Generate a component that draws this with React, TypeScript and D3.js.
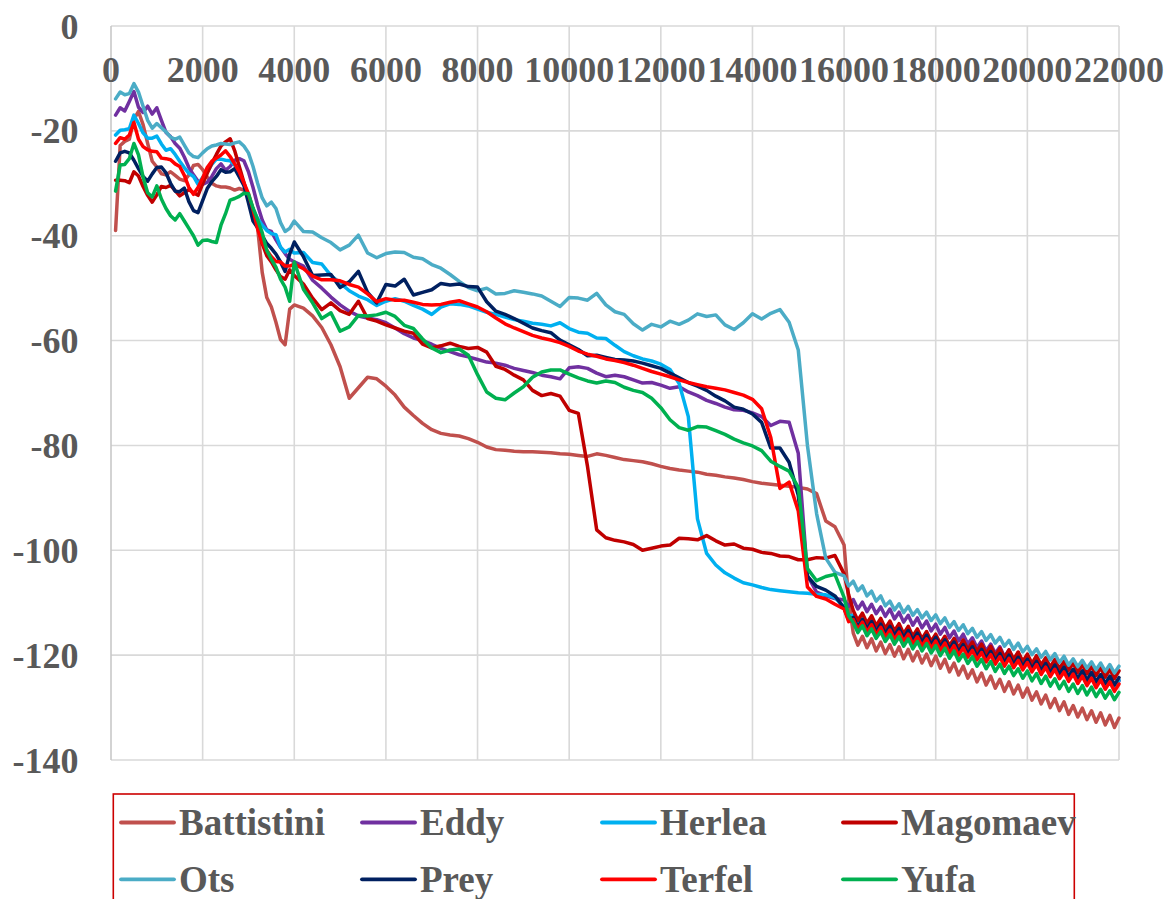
import React from "react";
import * as d3 from "d3";

// Frequency grid (Hz): fine below 4 kHz, coarser in the middle, fine again in the rippled top band
const lowFreqs: number[] = d3.range(100, 4000, 100);
const midFreqs: number[] = d3.range(4000, 16000, 200);
const highFreqs: number[] = d3.range(16000, 22001, 100);
const freqs: number[] = [...lowFreqs, ...midFreqs, ...highFreqs];

const xTicks = [0, 2000, 4000, 6000, 8000, 10000, 12000, 14000, 16000, 18000, 20000, 22000];
const yTicks = [0, -20, -40, -60, -80, -100, -120, -140];

const seriesNames = ["Battistini", "Eddy", "Herlea", "Magomaev", "Ots", "Prey", "Terfel", "Yufa"];
const seriesColors = ["#c0504d", "#7030a0", "#00b0f0", "#c00000", "#4bacc6", "#002060", "#ff0000", "#00b050"];

const battistini = [
  -39.0, -22.8, -22.0, -21.6, -17.8, -16.3, -18.8, -22.4, -25.8, -26.9,
  -28.2, -28.4, -27.8, -28.5, -29.2, -29.5, -28.4, -26.6, -26.4, -27.4,
  -28.8, -30.0, -30.5, -30.7, -30.7, -30.9, -31.3, -31.0, -31.3, -32.6,
  -35.3, -38.5, -47.0, -51.8, -53.6, -56.5, -59.8, -60.8, -54.0,
  -53.2, -53.8, -55.3, -57.5, -60.8, -65.0, -71.0, -69.0, -67.0, -67.3,
  -68.7, -70.4, -72.7, -74.3, -75.8, -77.0, -77.7, -78.0, -78.2, -78.7,
  -79.4, -80.3, -80.8, -80.9, -81.1, -81.2, -81.2, -81.3, -81.4, -81.6,
  -81.7, -81.9, -82.1, -81.6, -81.9, -82.3, -82.7, -82.9, -83.1, -83.5,
  -84.0, -84.4, -84.7, -84.9, -85.1, -85.5, -85.7, -86.0, -86.2, -86.5,
  -86.9, -87.2, -87.4, -87.6, -87.8, -88.0, -88.3, -89.2, -94.4, -95.5,
  -99.0, -109.5, -115.8, -118.1, -116.4, -118.6, -116.9, -119.2, -117.5, -119.7, -118.0,
  -120.2, -118.4, -120.7, -118.9, -121.1, -119.3, -121.5, -119.8, -122.0, -120.2,
  -122.5, -120.8, -123.2, -121.5, -123.8, -122.1, -124.4, -122.8, -125.1, -123.4,
  -125.7, -124.0, -126.3, -124.6, -126.9, -125.1, -127.4, -125.7, -128.0, -126.3,
  -128.6, -127.0, -129.3, -127.6, -130.0, -128.3, -130.6, -128.9, -131.3, -129.6,
  -131.8, -130.1, -132.3, -130.6, -132.8, -131.0, -133.3, -131.5, -133.8, -132.0,
];

const eddy = [
  -17.0, -15.6, -16.2, -14.4, -12.5, -15.5, -16.5, -15.3, -16.8, -15.6,
  -18.0, -20.3, -21.1, -22.4, -23.3, -25.0, -27.0, -28.4, -29.6, -30.2,
  -29.8, -28.7, -27.2, -26.3, -27.5, -26.8, -25.6, -25.3, -25.7, -27.8,
  -30.8, -34.2, -37.0, -38.9, -39.2, -40.8, -42.2, -43.4, -44.5,
  -45.0, -45.8, -48.5, -50.0, -51.7, -53.2, -54.4, -55.3, -55.7, -56.0,
  -56.6, -57.6, -58.7, -59.5, -60.0, -60.7, -61.5, -62.1, -62.7, -63.1,
  -63.6, -64.1, -64.3, -64.7, -65.3, -65.7, -66.1, -66.6, -66.9, -67.3,
  -65.2, -65.0, -65.3, -66.2, -66.9, -66.6, -66.9, -67.5, -68.1, -68.0,
  -68.5, -69.1, -68.8, -69.8, -70.5, -71.4, -72.0, -72.7, -73.2, -73.3,
  -73.8, -74.5, -76.2, -75.4, -75.6, -81.5, -104.8, -108.0, -108.7, -109.2,
  -109.5, -110.7, -109.4, -111.2, -109.9, -111.7, -110.3, -112.1, -110.8, -112.6, -111.2,
  -113.1, -111.8, -113.7, -112.4, -114.3, -112.9, -114.8, -113.5, -115.4, -114.1,
  -116.0, -114.7, -116.7, -115.4, -117.3, -116.0, -117.9, -116.7, -118.6, -117.3,
  -119.2, -117.9, -119.7, -118.4, -120.3, -119.0, -120.9, -119.5, -121.4, -120.1,
  -122.0, -120.6, -122.5, -121.2, -123.1, -121.7, -123.6, -122.3, -124.1, -122.8,
  -124.6, -123.2, -125.0, -123.6, -125.5, -124.1, -125.9, -124.5, -126.3, -124.9,
];

const herlea = [
  -20.8, -19.9, -19.8, -19.6, -17.0, -18.6, -20.4, -21.4, -21.4, -21.0,
  -22.5, -23.7, -23.4, -24.5, -25.8, -27.0, -28.1, -28.7, -30.2, -28.9,
  -27.8, -26.4, -25.4, -25.4, -25.6, -25.7, -26.5, -28.4, -30.2, -32.6,
  -34.9, -36.7, -38.0, -39.0, -39.6, -39.8, -42.2, -43.1, -42.6,
  -43.3, -43.2, -45.1, -45.4, -47.6, -49.0, -50.5, -51.5, -52.2, -53.3,
  -52.5, -52.0, -52.5, -53.3, -54.0, -55.0, -53.6, -53.0, -53.1, -53.4,
  -54.0, -54.6, -55.0, -55.5, -56.0, -56.3, -56.7, -56.9, -57.2, -56.6,
  -57.7, -58.4, -58.6, -59.5, -59.6, -60.9, -62.1, -62.9, -63.5, -63.9,
  -64.5, -65.5, -68.2, -74.5, -94.0, -100.6, -102.8, -104.3, -105.3, -106.2,
  -106.6, -107.1, -107.5, -107.7, -107.9, -108.1, -108.2, -108.4, -108.5, -109.0,
  -110.8, -112.5, -112.4, -114.2, -112.9, -114.7, -113.4, -115.2, -113.8, -115.7, -114.3,
  -116.2, -114.8, -116.7, -115.3, -117.2, -115.8, -117.7, -116.3, -118.2, -116.8,
  -118.6, -117.3, -119.1, -117.8, -119.6, -118.2, -120.1, -118.7, -120.6, -119.2,
  -121.0, -119.6, -121.4, -120.0, -121.8, -120.3, -122.1, -120.7, -122.5, -121.1,
  -122.9, -121.5, -123.3, -121.9, -123.7, -122.2, -124.0, -122.6, -124.4, -123.0,
  -124.8, -123.4, -125.1, -123.7, -125.5, -124.1, -125.9, -124.5, -126.2, -124.8,
];

const magomaev = [
  -29.4, -29.4, -29.5, -29.9, -27.8, -28.6, -30.6, -32.3, -33.6, -32.2,
  -30.6, -30.8, -30.4, -31.4, -32.4, -31.8, -31.2, -31.8, -32.3, -30.1,
  -28.1, -26.2, -24.5, -22.9, -22.1, -21.5, -23.8, -26.8, -29.8, -32.8,
  -35.0, -37.8, -41.5, -43.8, -45.0, -46.5, -47.8, -48.3, -46.5,
  -47.6, -49.2, -51.9, -54.1, -52.8, -54.3, -55.0, -52.5, -55.8, -56.3,
  -57.0, -57.6, -58.2, -58.6, -60.7, -61.4, -61.0, -60.5, -61.1, -61.5,
  -61.3, -62.2, -64.9, -65.5, -66.6, -67.5, -69.5, -70.5, -70.1, -70.6,
  -73.3, -73.9, -84.0, -96.1, -97.6, -98.1, -98.4, -98.9, -100.0, -99.6,
  -99.2, -99.0, -97.7, -97.8, -98.0, -97.2, -98.2, -99.0, -98.8, -99.6,
  -99.8, -100.4, -100.6, -101.1, -101.2, -101.8, -101.8, -101.4, -101.5, -101.0,
  -104.5, -108.5, -111.5, -113.4, -112.0, -113.9, -112.5, -114.4, -113.0, -114.9, -113.5,
  -115.4, -114.0, -115.9, -114.5, -116.4, -115.0, -116.9, -115.5, -117.4, -116.0,
  -117.8, -116.4, -118.2, -116.8, -118.6, -117.1, -118.9, -117.5, -119.3, -117.9,
  -119.7, -118.3, -120.1, -118.7, -120.5, -119.0, -120.8, -119.4, -121.2, -119.8,
  -121.6, -120.1, -121.9, -120.5, -122.3, -120.8, -122.6, -121.2, -122.9, -121.5,
  -123.3, -121.8, -123.6, -122.1, -123.9, -122.4, -124.2, -122.7, -124.5, -123.0,
];

const ots = [
  -13.9, -12.6, -13.1, -12.9, -11.0, -12.6, -15.3, -18.0, -19.5, -18.6,
  -19.4, -20.2, -21.2, -21.6, -21.2, -22.7, -24.2, -24.9, -25.1, -24.2,
  -23.4, -22.9, -22.7, -22.4, -22.5, -22.6, -22.3, -22.1, -22.9, -24.2,
  -26.8, -30.0, -32.8, -34.3, -33.6, -34.8, -37.5, -39.2, -38.6,
  -37.2, -39.2, -39.3, -40.4, -41.3, -42.7, -41.8, -39.9, -43.3, -44.2,
  -43.4, -43.1, -43.2, -44.1, -44.4, -45.5, -46.2, -47.4, -48.7, -49.9,
  -50.5, -50.0, -51.1, -51.0, -50.5, -50.8, -51.1, -51.5, -52.5, -53.5,
  -51.8, -51.9, -52.3, -51.0, -53.2, -54.5, -55.0, -56.8, -58.0, -56.9,
  -57.4, -56.3, -56.9, -56.1, -54.9, -55.4, -55.1, -57.0, -57.9, -56.6,
  -54.9, -55.9, -54.8, -54.1, -56.5, -61.8, -80.0, -93.0, -101.5, -104.2,
  -104.9, -106.8, -105.9, -107.7, -106.8, -108.7, -107.8, -109.7, -108.7, -110.6, -109.7,
  -111.4, -110.2, -111.9, -110.7, -112.4, -111.3, -112.9, -111.8, -113.4, -112.3,
  -114.0, -112.9, -114.7, -113.6, -115.3, -114.2, -115.9, -114.9, -116.6, -115.5,
  -117.2, -116.1, -117.7, -116.6, -118.3, -117.2, -118.9, -117.7, -119.4, -118.3,
  -119.9, -118.8, -120.4, -119.3, -120.9, -119.7, -121.4, -120.2, -121.9, -120.7,
  -122.2, -121.0, -122.5, -121.3, -122.8, -121.5, -123.1, -121.8, -123.4, -122.1,
];

const prey = [
  -25.8, -24.2, -23.9, -24.2, -25.6, -27.2, -28.7, -29.6, -28.2, -27.0,
  -26.9, -28.0, -30.0, -31.5, -31.6, -30.9, -33.5, -35.2, -35.6, -33.3,
  -31.0, -29.7, -28.7, -27.4, -27.9, -27.8, -27.2, -28.8, -30.4, -33.7,
  -37.2, -38.5, -40.0, -41.5, -42.4, -43.5, -45.0, -46.8, -43.5,
  -41.2, -44.0, -47.6, -47.5, -47.4, -49.9, -48.8, -46.8, -50.8, -52.8,
  -49.3, -49.6, -48.3, -51.3, -50.8, -50.3, -49.1, -49.4, -49.2, -49.7,
  -49.8, -52.6, -54.4, -55.0, -55.8, -56.7, -57.6, -58.1, -58.5, -59.9,
  -60.8, -61.7, -62.9, -62.8, -63.2, -63.6, -63.7, -63.9, -64.3, -64.8,
  -65.3, -66.2, -67.1, -68.0, -68.7, -69.5, -70.6, -71.5, -72.7, -73.1,
  -74.0, -75.6, -80.5, -80.5, -83.2, -89.5, -105.0, -106.9, -107.6, -108.7,
  -111.0, -113.3, -112.8, -114.6, -113.2, -115.0, -113.6, -115.5, -114.1, -115.9, -114.5,
  -116.3, -114.9, -116.7, -115.3, -117.2, -115.8, -117.6, -116.2, -118.0, -116.6,
  -118.4, -117.1, -118.9, -117.5, -119.4, -118.0, -119.8, -118.4, -120.3, -118.9,
  -120.7, -119.3, -121.1, -119.7, -121.5, -120.0, -121.8, -120.4, -122.2, -120.8,
  -122.6, -121.2, -123.0, -121.6, -123.4, -121.9, -123.7, -122.3, -124.1, -122.7,
  -124.5, -123.0, -124.8, -123.3, -125.1, -123.7, -125.4, -124.0, -125.7, -124.3,
];

const terfel = [
  -22.4, -21.3, -21.6, -20.8, -18.4, -21.6, -23.0, -23.6, -23.9, -24.0,
  -25.2, -25.3, -25.5, -26.3, -26.8, -28.5, -30.8, -32.1, -30.8, -29.0,
  -27.0, -25.8, -25.2, -24.6, -23.8, -24.9, -26.3, -27.8, -29.9, -32.0,
  -35.0, -38.7, -41.3, -42.8, -44.0, -44.9, -45.0, -45.8, -45.8,
  -45.4, -46.3, -47.7, -48.4, -48.4, -48.6, -49.3, -49.8, -51.1, -52.6,
  -52.0, -52.3, -52.3, -52.7, -53.1, -53.2, -53.1, -52.7, -52.4, -53.0,
  -53.6, -54.5, -55.7, -56.8, -57.6, -58.3, -59.0, -59.5, -59.9, -60.4,
  -61.1, -62.0, -62.6, -63.0, -63.5, -63.8, -64.2, -64.7, -65.3, -65.9,
  -66.4, -66.9, -67.5, -68.0, -68.4, -68.8, -69.1, -69.4, -69.9, -70.4,
  -71.2, -73.0, -78.5, -88.2, -87.0, -92.5, -107.0, -108.8, -109.3, -110.3,
  -111.2, -113.6, -113.2, -115.1, -113.7, -115.6, -114.2, -116.1, -114.7, -116.6, -115.2,
  -117.0, -115.6, -117.4, -116.0, -117.9, -116.5, -118.3, -116.9, -118.7, -117.3,
  -119.1, -117.7, -119.6, -118.2, -120.0, -118.6, -120.4, -119.1, -120.9, -119.5,
  -121.3, -119.9, -121.7, -120.3, -122.1, -120.6, -122.4, -121.0, -122.8, -121.4,
  -123.2, -121.8, -123.7, -122.3, -124.1, -122.7, -124.5, -123.2, -125.0, -123.6,
  -125.4, -124.0, -125.8, -124.4, -126.2, -124.7, -126.5, -125.1, -126.9, -125.5,
];

const yufa = [
  -31.5, -26.5, -26.4, -25.3, -22.4, -24.6, -28.8, -31.8, -32.6, -30.5,
  -33.0, -34.8, -36.2, -37.0, -35.8, -37.2, -38.6, -40.0, -41.8, -40.9,
  -40.8, -41.1, -41.3, -38.0, -35.8, -33.2, -32.9, -32.5, -31.9, -32.0,
  -34.7, -37.0, -39.4, -42.8, -44.5, -46.0, -48.3, -49.8, -52.5,
  -45.0, -50.2, -52.8, -55.8, -54.7, -58.2, -57.4, -55.2, -55.3, -55.1,
  -54.6, -55.4, -57.1, -57.7, -59.7, -61.4, -62.3, -61.8, -61.6, -62.8,
  -66.5, -69.8, -71.0, -71.3, -70.0, -68.8, -67.0, -66.0, -65.6, -65.6,
  -66.4, -67.1, -67.7, -68.1, -67.7, -68.0, -68.9, -69.5, -69.9, -71.0,
  -72.8, -75.1, -76.6, -77.1, -76.4, -76.5, -77.2, -77.9, -78.8, -79.5,
  -80.1, -81.0, -83.0, -84.0, -84.9, -88.0, -103.5, -105.8, -105.0, -104.6,
  -109.0, -112.5, -113.8, -115.7, -114.4, -116.3, -115.0, -116.8, -115.5, -117.4, -116.1,
  -117.9, -116.5, -118.3, -116.9, -118.8, -117.4, -119.2, -117.8, -119.6, -118.2,
  -120.1, -118.7, -120.6, -119.2, -121.1, -119.8, -121.6, -120.3, -122.1, -120.8,
  -122.6, -121.2, -123.1, -121.7, -123.5, -122.1, -123.9, -122.6, -124.4, -123.0,
  -124.9, -123.5, -125.4, -124.0, -125.9, -124.5, -126.4, -125.0, -126.9, -125.5,
  -127.3, -125.8, -127.6, -126.1, -127.9, -126.5, -128.2, -126.8, -128.5, -127.1,
];

const seriesValues = [battistini, eddy, herlea, magomaev, ots, prey, terfel, yufa];

const W = 1169;
const H = 899;
const FONT = "'Liberation Serif', 'Times New Roman', serif";
const TEXT = "#595959";
const GRID = "#d9d9d9";

export default function App() {
  const x = d3.scaleLinear().domain([0, 22000]).range([111, 1119]);
  const y = d3.scaleLinear().domain([-140, 0]).range([760, 26]);

  const line = d3
    .line<[number, number]>()
    .x((d) => x(d[0]))
    .y((d) => y(d[1]));

  const legendCols = [121, 362, 602, 843];
  const legendRows = [822.5, 879.3];

  return (
    <svg
      width={W}
      height={H}
      viewBox={`0 0 ${W} ${H}`}
      style={{ position: "absolute", left: 0, top: 0, background: "#ffffff" }}
    >
      <rect x={0} y={0} width={W} height={H} fill="#ffffff" />
      {/* grid */}
      <g>
        {yTicks.map((t) => (
          <line key={"gy" + t} x1={x(0)} x2={x(22000)} y1={y(t)} y2={y(t)} stroke={GRID} strokeWidth={1.6} />
        ))}
        {xTicks.map((t) => (
          <line
            key={"gx" + t}
            x1={x(t)}
            x2={x(t)}
            y1={y(0)}
            y2={y(-140)}
            stroke={t === 0 ? "#c8c8c8" : GRID}
            strokeWidth={1.6}
          />
        ))}
      </g>
      {/* x tick labels (top) */}
      <g fontFamily={FONT} fontWeight="bold" fontSize={36} fill={TEXT} textAnchor="middle">
        {xTicks.map((t) => (
          <text key={"xl" + t} x={x(t)} y={82}>
            {t}
          </text>
        ))}
      </g>
      {/* y tick labels */}
      <g fontFamily={FONT} fontWeight="bold" fontSize={36} fill={TEXT} textAnchor="end">
        {yTicks.map((t) => (
          <text key={"yl" + t} x={78.5} y={y(t) + 12.5}>
            {t}
          </text>
        ))}
      </g>
      {/* series */}
      <g fill="none" strokeWidth={3.5} strokeLinejoin="round" strokeLinecap="round">
        {seriesValues.map((vals, i) => {
          const n = Math.min(vals.length, freqs.length);
          const pts: [number, number][] = [];
          for (let k = 0; k < n; k++) pts.push([freqs[k], vals[k]]);
          return <path key={seriesNames[i]} d={line(pts) || ""} stroke={seriesColors[i]} />;
        })}
      </g>
      {/* legend */}
      <rect x={113.3} y={794} width={961} height={130} fill="none" stroke="#cc0000" strokeWidth={1.6} />
      <g fontFamily={FONT} fontWeight="bold" fontSize={37} fill={TEXT}>
        {seriesNames.map((name, i) => {
          const cx = legendCols[i % 4];
          const cy = legendRows[Math.floor(i / 4)];
          return (
            <g key={"lg" + name}>
              <line
                x1={cx}
                x2={cx + 53}
                y1={cy}
                y2={cy}
                stroke={seriesColors[i]}
                strokeWidth={3.8}
                strokeLinecap="round"
              />
              <text x={cx + 58} y={cy + 12.5}>
                {name}
              </text>
            </g>
          );
        })}
      </g>
    </svg>
  );
}
